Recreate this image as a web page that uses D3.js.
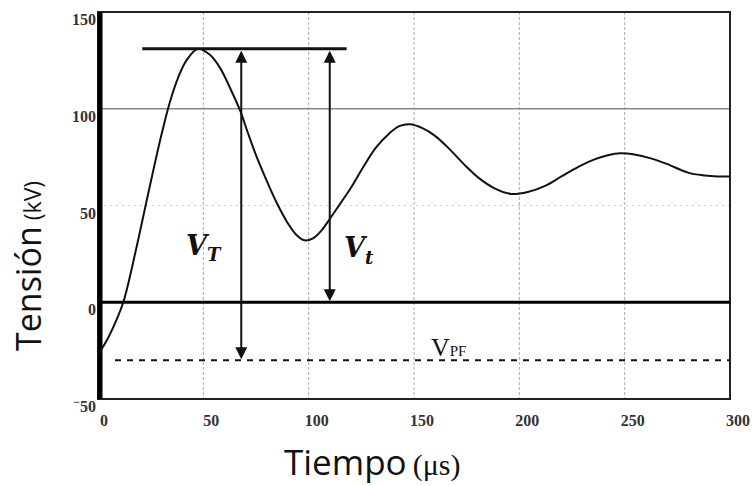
<!DOCTYPE html>
<meta charset="UTF-8">
<script src="https://d3js.org/d3.v7.min.js"></script>
<style>
  body { margin: 0; background: #fff; }
  .tick-lbl { font-family: "Liberation Serif", serif; font-size: 16px; font-weight: bold; fill: #333; }
</style>
<body>
<div id="mysvg"></div>
<script>

// curve: time (us) -> tension (kV)
var timeUs    = [0, 4, 8, 12, 18, 24, 30, 34, 38, 42, 47.5, 53, 58, 63, 67.5, 71, 75, 80, 85, 90, 94, 98, 102, 106, 110, 115, 120, 126, 132, 138, 143, 148, 154, 160, 167, 174, 181, 188, 196, 204, 212, 220, 228, 236, 242, 248, 254, 262, 270, 280, 288, 294, 300];
var tensionKv = [-27, -20, -11, 0, 27, 57, 86, 103, 116, 125, 131, 128, 121, 110, 99, 88, 76, 63, 51, 41, 35, 32, 33, 37, 43, 51, 59, 70, 80, 87, 91, 92, 90, 86, 79, 71, 64, 59, 56, 57, 60, 65, 70, 74, 76, 77, 76.5, 74.5, 71.5, 67, 65.5, 65, 65];

var xTicks = [0, 50, 100, 150, 200, 250, 300];
var yTicks = [-50, 0, 50, 100, 150];

var peakKv = 131;           // V_T / V_t top
var pfKv = -30;             // V_PF dashed level
var peakLineT = [21, 118];
var arrowVT = 68;           // V_T arrow time
var arrowVt = 110;          // V_t arrow time

var width = 755, height = 486;

var svg = d3.select("#mysvg")
  .append("svg")
    .attr("width", width)
    .attr("height", height);

var x = d3.scaleLinear()
  .domain([0, 300])
  .range([98, 730]);

var y = d3.scaleLinear()
  .domain([-50, 150])
  .range([399, 12]);

// grid
svg.append("g")
  .selectAll("line")
  .data(xTicks.slice(1, -1))
  .enter()
  .append("line")
    .attr("x1", function(d) { return x(d); })
    .attr("x2", function(d) { return x(d); })
    .attr("y1", y(150))
    .attr("y2", y(-50))
    .attr("stroke", "#aaa")
    .attr("stroke-width", 1)
    .attr("stroke-dasharray", "3,2");

svg.append("line")
  .attr("x1", x(0)).attr("x2", x(300))
  .attr("y1", y(100)).attr("y2", y(100))
  .attr("stroke", "#888").attr("stroke-width", 1.5);

svg.append("line")
  .attr("x1", x(0)).attr("x2", x(300))
  .attr("y1", y(50)).attr("y2", y(50))
  .attr("stroke", "#ccc").attr("stroke-width", 1)
  .attr("stroke-dasharray", "2,4");

// frame
svg.append("rect")
  .attr("x", x(0)).attr("y", y(150))
  .attr("width", x(300) - x(0))
  .attr("height", y(-50) - y(150))
  .attr("fill", "none")
  .attr("stroke", "#222")
  .attr("stroke-width", 2);

svg.append("line")
  .attr("x1", x(0) + 2).attr("x2", x(0) + 2)
  .attr("y1", y(150)).attr("y2", y(-50))
  .attr("stroke", "#000").attr("stroke-width", 5);

// zero line
svg.append("line")
  .attr("x1", x(0)).attr("x2", x(300))
  .attr("y1", y(0)).attr("y2", y(0))
  .attr("stroke", "#000").attr("stroke-width", 3);

// V_PF dashed
svg.append("line")
  .attr("x1", 115).attr("x2", x(300))
  .attr("y1", y(pfKv)).attr("y2", y(pfKv))
  .attr("stroke", "#111").attr("stroke-width", 2)
  .attr("stroke-dasharray", "6,6");

// tick labels
svg.append("g")
  .selectAll("text")
  .data(yTicks)
  .enter()
  .append("text")
    .attr("class", "tick-lbl")
    .attr("x", 96)
    .attr("y", function(d) { return y(d) + 13; })
    .attr("text-anchor", "end")
    .each(function(d) {
      var t = d3.select(this);
      if (d < 0) {
        t.append("tspan").attr("dy", -6).attr("font-size", 12).text("\u2212");
        t.append("tspan").attr("dy", 6).text(Math.abs(d));
      } else {
        t.text(d);
      }
    });

svg.append("g")
  .selectAll("text")
  .data(xTicks)
  .enter()
  .append("text")
    .attr("class", "tick-lbl")
    .attr("x", function(d) { return x(d) + (d == 0 ? 6 : 8); })
    .attr("y", 426)
    .attr("text-anchor", "middle")
    .text(function(d) { return d; });

// curve
var line = d3.line()
  .x(function(d) { return x(d[0]); })
  .y(function(d) { return y(d[1]); })
  .curve(d3.curveCatmullRom);

svg.append("path")
  .datum(timeUs.map(function(t, i) { return [t, tensionKv[i]]; }))
  .attr("d", line)
  .attr("fill", "none")
  .attr("stroke", "#111")
  .attr("stroke-width", 2);

// peak line
svg.append("line")
  .attr("x1", x(peakLineT[0])).attr("x2", x(peakLineT[1]))
  .attr("y1", y(peakKv)).attr("y2", y(peakKv))
  .attr("stroke", "#111").attr("stroke-width", 3);

// arrows
function arrow(t, v0, v1) {
  var xx = x(t);
  svg.append("line")
    .attr("x1", xx).attr("x2", xx)
    .attr("y1", y(v0) + 4).attr("y2", y(v1) - 4)
    .attr("stroke", "#111").attr("stroke-width", 2);
  // head at top, pointing up
  svg.append("path")
    .attr("d", "M" + xx + "," + (y(v0) + 2) + "L" + (xx - 6) + "," + (y(v0) + 14) + "L" + (xx + 6) + "," + (y(v0) + 14) + "Z")
    .attr("fill", "#111");
  // head at bottom, pointing down
  svg.append("path")
    .attr("d", "M" + xx + "," + (y(v1) - 1) + "L" + (xx - 6) + "," + (y(v1) - 13) + "L" + (xx + 6) + "," + (y(v1) - 13) + "Z")
    .attr("fill", "#111");
}
arrow(arrowVT, peakKv, pfKv);
arrow(arrowVt, peakKv, 0);

// V labels
var vT = svg.append("text")
  .attr("x", 186).attr("y", 255)
  .attr("font-family", "'DejaVu Serif', serif")
  .attr("font-weight", "bold").attr("font-style", "italic")
  .attr("font-size", 27).attr("fill", "#111");
vT.append("tspan").text("V");
vT.append("tspan").attr("dy", 6).attr("font-size", 18).text("T");

var vt = svg.append("text")
  .attr("x", 344).attr("y", 257)
  .attr("font-family", "'DejaVu Serif', serif")
  .attr("font-weight", "bold").attr("font-style", "italic")
  .attr("font-size", 27).attr("fill", "#111");
vt.append("tspan").text("V");
vt.append("tspan").attr("dy", 7).attr("font-size", 18).text("t");

var vpf = svg.append("text")
  .attr("x", 431).attr("y", 356)
  .attr("font-family", "'Liberation Serif', serif")
  .attr("fill", "#111");
vpf.append("tspan").attr("font-size", 26).text("V");
vpf.append("tspan").attr("font-size", 15).text("PF");

// axis titles
var xt = svg.append("text")
  .attr("x", 284).attr("y", 475)
  .attr("fill", "#111");
xt.append("tspan").attr("font-family", "'Open Sans', sans-serif").attr("font-size", 35).text("Tiempo");
xt.append("tspan").attr("dx", 6).attr("font-family", "'Liberation Serif', serif").attr("font-size", 30).text("(\u03bcs)");

var yt = svg.append("text")
  .attr("transform", "translate(41,351) rotate(-90)")
  .attr("fill", "#111")
  .attr("font-family", "'Open Sans', sans-serif");
yt.append("tspan").attr("font-size", 34).text("Tensi\u00f3n");
yt.append("tspan").attr("dx", 6).attr("font-size", 23).text("(kV)");

</script>
</body>
